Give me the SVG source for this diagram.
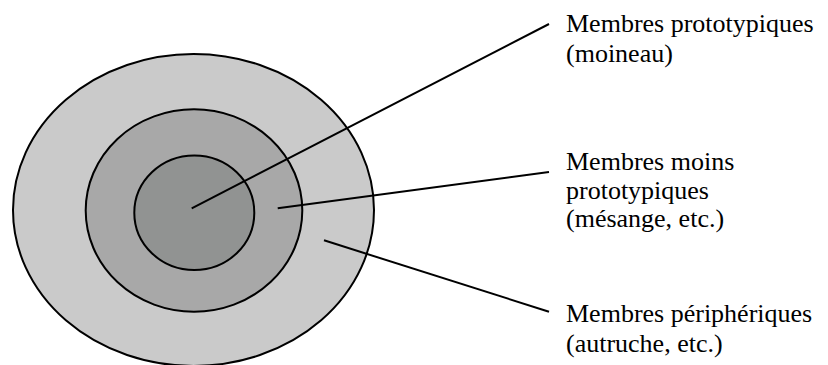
<svg xmlns="http://www.w3.org/2000/svg" width="828" height="365" viewBox="0 0 828 365">
<style>
.ring{stroke:#000;stroke-width:2}
.lbl{font-family:"Liberation Serif","Times New Roman",serif;font-size:26px;fill:#000}
.conn line{stroke:#000;stroke-width:2}
</style>
<rect width="828" height="365" fill="#fff"/>
<g id="outer"><ellipse class="ring" cx="193.5" cy="210" rx="180.5" ry="156" fill="#cacaca"/></g>
<g id="middle"><ellipse class="ring" cx="194" cy="210.5" rx="108.3" ry="101.2" fill="#a8a8a8"/></g>
<g id="inner"><ellipse class="ring" cx="194.3" cy="212.7" rx="60" ry="57.3" fill="#919392"/></g>
<g id="connectors" class="conn">
<line x1="191.7" y1="208.3" x2="549" y2="24"/>
<line x1="277.7" y1="208.3" x2="549" y2="172"/>
<line x1="324" y1="240.3" x2="549" y2="311.7"/>
</g>
<g id="label-proto">
<text class="lbl" x="566" y="31.7">Membres prototypiques</text>
<text class="lbl" x="566" y="61.7">(moineau)</text>
</g>
<g id="label-moins">
<text class="lbl" x="566" y="170">Membres moins</text>
<text class="lbl" x="566" y="198.5">prototypiques</text>
<text class="lbl" x="566" y="227">(mésange, etc.)</text>
</g>
<g id="label-peri">
<text class="lbl" x="566" y="321.5">Membres périphériques</text>
<text class="lbl" x="566" y="351.5">(autruche, etc.)</text>
</g>
</svg>
